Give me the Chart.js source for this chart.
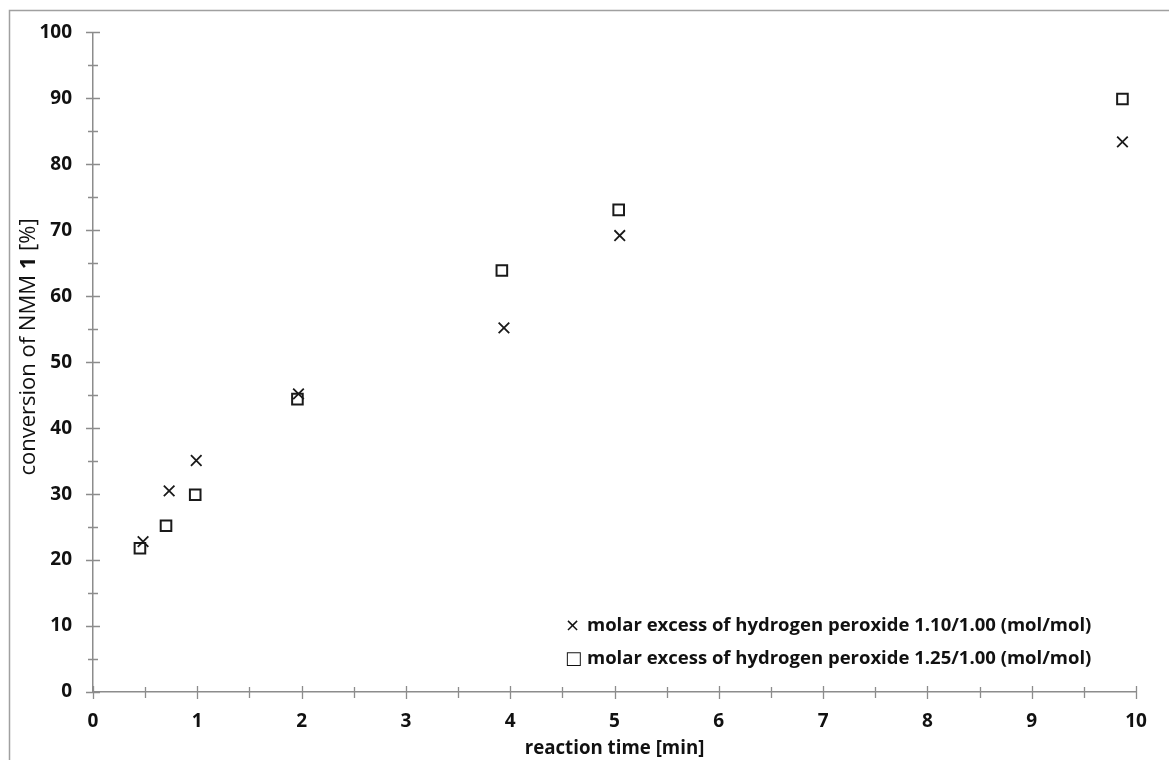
<!DOCTYPE html>
<html>
<head>
<meta charset="utf-8">
<script src="https://cdn.jsdelivr.net/npm/chart.js@4/dist/chart.umd.min.js"></script>
<style>
  html, body { margin: 0; padding: 0; background: #fff; }
  #wrap { width: 1169px; height: 760px; position: relative; }
</style>
</head>
<body>
<div id="wrap"><canvas id="c" width="1169" height="760"></canvas></div>
<script>
// Reaction time [min] for each measurement
const timeLow  = [0.48, 0.73, 0.99, 1.97, 3.94, 5.05, 9.87];
const timeHigh = [0.45, 0.70, 0.98, 1.96, 3.92, 5.04, 9.87];
// Conversion of NMM [%]
const convLow  = [22.8, 30.5, 35.1, 45.2, 55.2, 69.2, 83.4];
const convHigh = [21.8, 25.2, 29.9, 44.4, 63.9, 73.1, 89.9];
const seriesNames = [
  'molar excess of hydrogen peroxide 1.10/1.00 (mol/mol)',
  'molar excess of hydrogen peroxide 1.25/1.00 (mol/mol)'
];
const legendSymbols = ['\u00D7', '\u25A1'];
const xTickLabels = ['0','1','2','3','4','5','6','7','8','9','10'];
const yTickLabels = ['0','10','20','30','40','50','60','70','80','90','100'];

const FONT = '"Open Sans", Lato, "DejaVu Sans", sans-serif';
const AXIS_COLOR = '#8c8c8c';

function pts(xs, ys) { return xs.map((x, i) => ({ x: x, y: ys[i] })); }

// Ticks that cross the axis line, plus the frame, y title and legend
const decorations = {
  id: 'decorations',
  afterDraw(chart) {
    const ctx = chart.ctx;
    const xs = chart.scales.x, ys = chart.scales.y;
    const area = chart.chartArea;
    ctx.save();
    // frame
    ctx.strokeStyle = '#a0a0a0';
    ctx.lineWidth = 1.5;
    ctx.beginPath();
    ctx.moveTo(9.5, 770); ctx.lineTo(9.5, 10.5); ctx.lineTo(1169, 10.5);
    ctx.stroke();

    // tick marks every half unit on x, every 5 on y
    ctx.strokeStyle = AXIS_COLOR;
    ctx.lineWidth = 1.3;
    ctx.beginPath();
    for (let v = 0; v <= 10.001; v += 0.5) {
      const px = Math.round(xs.getPixelForValue(v)) + 0.5;
      const major = Math.abs(v - Math.round(v)) < 1e-6;
      ctx.moveTo(px, area.bottom - (major ? 6 : 5));
      ctx.lineTo(px, area.bottom + (major ? 7 : 6));
    }
    for (let v = 0; v <= 100.001; v += 5) {
      const py = Math.round(ys.getPixelForValue(v)) + 0.5;
      const major = v % 10 === 0;
      ctx.moveTo(area.left - (major ? 7 : 5), py);
      ctx.lineTo(area.left + (major ? 7 : 5), py);
    }
    ctx.stroke();

    // y axis title with bold compound number
    ctx.fillStyle = '#111';
    ctx.textBaseline = 'middle';
    const parts = [
      { t: 'conversion of NMM ', f: '22px ' + FONT },
      { t: '1', f: 'bold 22px ' + FONT },
      { t: ' [%]', f: '22px ' + FONT }
    ];
    let total = 0;
    parts.forEach(p => { ctx.font = p.f; p.w = ctx.measureText(p.t).width; total += p.w; });
    ctx.translate(29, 347);
    ctx.rotate(-Math.PI / 2);
    let cx = -total / 2;
    ctx.textAlign = 'left';
    parts.forEach(p => { ctx.font = p.f; ctx.fillText(p.t, cx, 0); cx += p.w; });
    ctx.setTransform(1, 0, 0, 1, 0, 0);

    // legend inside the plot area
    ctx.textAlign = 'left';
    ctx.textBaseline = 'middle';
    const lx = 565, ly = [626, 659];
    seriesNames.forEach((name, i) => {
      ctx.font = '18px "DejaVu Sans", sans-serif';
      ctx.fillText(legendSymbols[i], lx, ly[i]);
      ctx.font = 'bold 18.5px ' + FONT;
      ctx.fillText(name, lx + 22, ly[i]);
    });
    ctx.restore();
  }
};

new Chart(document.getElementById('c'), {
  type: 'scatter',
  data: {
    datasets: [
      {
        label: seriesNames[0],
        data: pts(timeLow, convLow),
        pointStyle: 'crossRot',
        pointRadius: 7.5,
        pointHoverRadius: 7.5,
        borderColor: '#1a1a1a',
        backgroundColor: '#1a1a1a',
        borderWidth: 1.8
      },
      {
        label: seriesNames[1],
        data: pts(timeHigh, convHigh),
        pointStyle: 'rect',
        pointRadius: 7.5,
        pointHoverRadius: 7.5,
        borderColor: '#1a1a1a',
        backgroundColor: 'rgba(255,255,255,0)',
        borderWidth: 2
      }
    ]
  },
  options: {
    responsive: false,
    animation: false,
    events: [],
    layout: { padding: { left: 0, top: 29, right: 33, bottom: 0 } },
    plugins: { legend: { display: false }, tooltip: { enabled: false } },
    scales: {
      x: {
        type: 'linear',
        min: 0, max: 10,
        afterFit(s) { s.height = 68; },
        afterBuildTicks(s) { s.ticks = xTickLabels.map(v => ({ value: Number(v) })); },
        grid: { display: false, drawTicks: false },
        border: { display: true, color: AXIS_COLOR, width: 1.5 },
        ticks: {
          color: '#111',
          font: { family: FONT, size: 19, weight: 'bold' },
          padding: 18,
          maxRotation: 0,
          callback: (v) => xTickLabels[Math.round(v)]
        },
        title: {
          display: true,
          text: 'reaction time [min]',
          color: '#111',
          font: { family: FONT, size: 18.7, weight: 'bold' },
          padding: { top: 0, bottom: 0 }
        }
      },
      y: {
        type: 'linear',
        min: 0, max: 100,
        afterFit(s) { s.width = 93; },
        afterBuildTicks(s) { s.ticks = yTickLabels.map(v => ({ value: Number(v) })); },
        grid: { display: false, drawTicks: false },
        border: { display: true, color: AXIS_COLOR, width: 1.5 },
        ticks: {
          color: '#111',
          font: { family: FONT, size: 19, weight: 'bold' },
          padding: 21,
          callback: (v) => yTickLabels[Math.round(v / 10)]
        }
      }
    }
  },
  plugins: [decorations]
});
</script>
</body>
</html>
